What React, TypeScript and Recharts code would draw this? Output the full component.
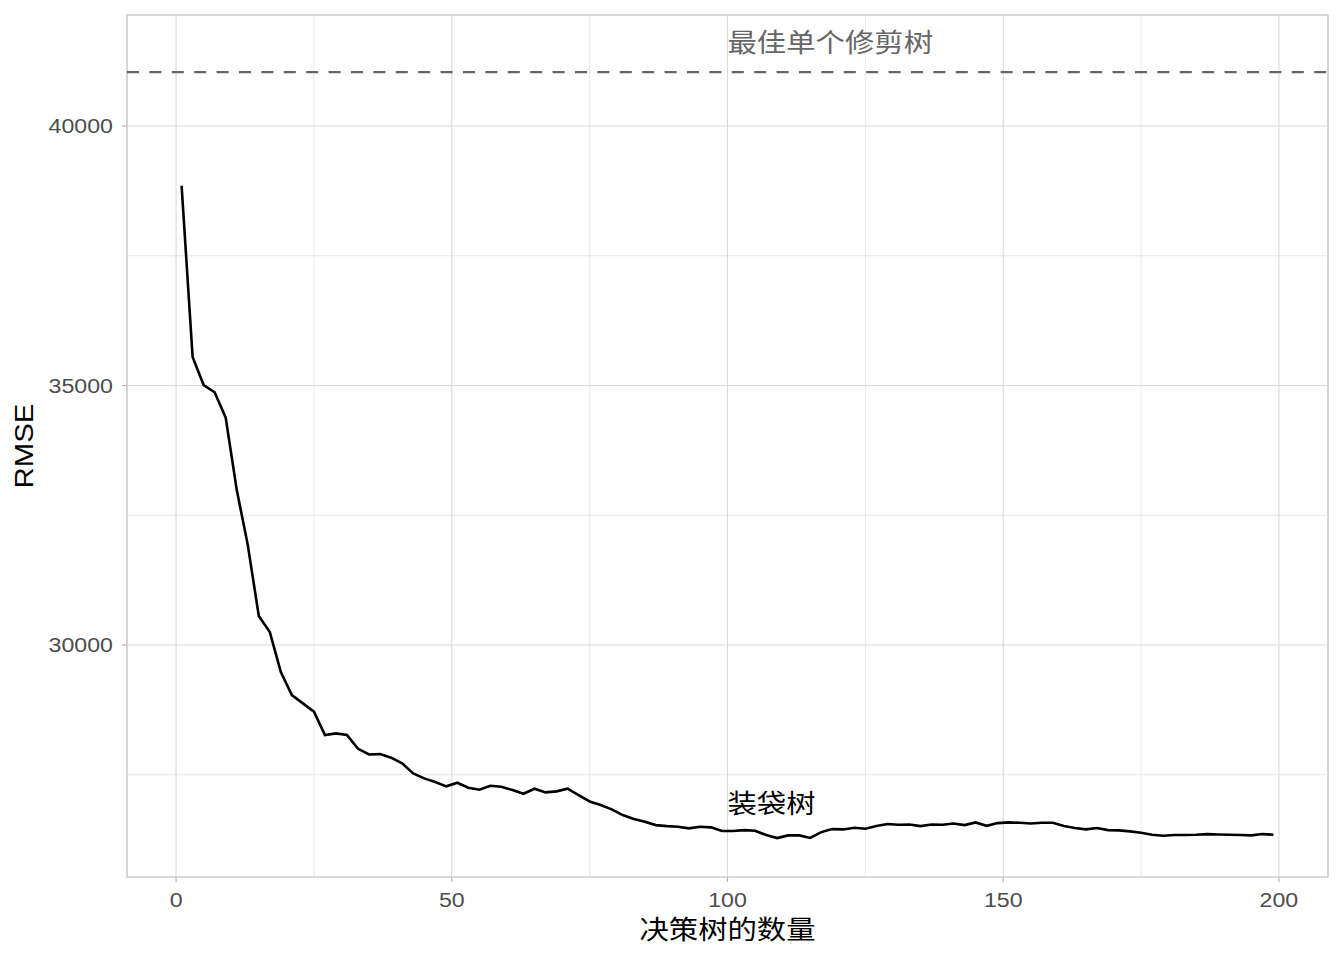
import { LineChart, Line, XAxis, YAxis, ReferenceLine, ReferenceArea, ReferenceDot } from 'recharts';

// number of bagged trees
const trees = [
  1, 3, 5, 7, 9, 11, 13, 15, 17, 19,
  21, 23, 25, 27, 29, 31, 33, 35, 37, 39,
  41, 43, 45, 47, 49, 51, 53, 55, 57, 59,
  61, 63, 65, 67, 69, 71, 73, 75, 77, 79,
  81, 83, 85, 87, 89, 91, 93, 95, 97, 99,
  101, 103, 105, 107, 109, 111, 113, 115, 117, 119,
  121, 123, 125, 127, 129, 131, 133, 135, 137, 139,
  141, 143, 145, 147, 149, 151, 153, 155, 157, 159,
  161, 163, 165, 167, 169, 171, 173, 175, 177, 179,
  181, 183, 185, 187, 189, 191, 193, 195, 197, 199,
];

const rmse = [
  38850, 35550, 35010, 34870, 34380, 32990, 31930, 30560, 30250, 29480,
  29035, 28875, 28715, 28265, 28297, 28265, 28000, 27890, 27898, 27830,
  27720, 27526, 27430, 27360, 27277, 27346, 27250, 27211, 27288, 27269,
  27205, 27134, 27231, 27160, 27180, 27231, 27109, 26985, 26916, 26833,
  26723, 26646, 26594, 26530, 26511, 26498, 26467, 26498, 26486, 26415,
  26415, 26434, 26421, 26338, 26280, 26332, 26332, 26283, 26395, 26453,
  26447, 26479, 26460, 26511, 26550, 26537, 26543, 26511, 26543, 26537,
  26562, 26530, 26582, 26517, 26569, 26582, 26575, 26562, 26575, 26575,
  26511, 26473, 26447, 26473, 26434, 26428, 26409, 26383, 26344, 26325,
  26338, 26338, 26344, 26357, 26350, 26344, 26338, 26332, 26357, 26344,
];

const bestPrunedTree = 41040;

const xTicks = [0, 50, 100, 150, 200];
const xMinor = [25, 75, 125, 175];
const yTicks = [30000, 35000, 40000];
const yMinor = [27500, 32500, 37500];

const xDomain = [-8.9, 208.9];
const yDomain = [25530, 42140];

const data = trees.map((t, i) => ({ trees: t, rmse: rmse[i] }));

const FONT = "'Liberation Sans', 'Noto Sans CJK SC', sans-serif";
const STRETCH = 'scale(1.13,1)';

const XTick = ({ x, y, payload }: any) => (
  <text
    transform={`translate(${x},${y + 16}) ${STRETCH}`}
    textAnchor="middle"
    dominantBaseline="central"
    fill="#4d4d4d"
    fontSize={20.5}
    fontFamily={FONT}
  >
    {payload.value}
  </text>
);

const YTick = ({ x, y, payload }: any) => (
  <text
    transform={`translate(${x - 7},${y}) ${STRETCH}`}
    textAnchor="end"
    dominantBaseline="central"
    fill="#4d4d4d"
    fontSize={20.5}
    fontFamily={FONT}
  >
    {payload.value}
  </text>
);

const annotation = (text: string, color: string) => (props: any) => {
  const { x, y } = props.viewBox;
  return (
    <text
      transform={`translate(${x},${y}) ${STRETCH}`}
      textAnchor="start"
      dominantBaseline="central"
      fill={color}
      fontSize={26}
      fontFamily={FONT}
    >
      {text}
    </text>
  );
};

export default function App() {
  return (
    <LineChart
      width={1328}
      height={944}
      data={data}
      margin={{ top: 7, right: 8, left: 0, bottom: 0 }}
      style={{ fontFamily: FONT, background: '#fff' }}
    >
      {xMinor.map((v) => (
        <ReferenceLine key={`xm${v}`} x={v} stroke="#e6e6e6" strokeWidth={0.9} />
      ))}
      {yMinor.map((v) => (
        <ReferenceLine key={`ym${v}`} y={v} stroke="#e6e6e6" strokeWidth={0.9} />
      ))}
      {xTicks.map((v) => (
        <ReferenceLine key={`xM${v}`} x={v} stroke="#d9d9d9" strokeWidth={1.1} />
      ))}
      {yTicks.map((v) => (
        <ReferenceLine key={`yM${v}`} y={v} stroke="#d9d9d9" strokeWidth={1.1} />
      ))}
      <XAxis
        dataKey="trees"
        type="number"
        domain={xDomain}
        allowDataOverflow
        ticks={xTicks}
        interval={0}
        height={75}
        axisLine={false}
        tickSize={5}
        tickMargin={2}
        tickLine={{ stroke: '#b3b3b3', strokeWidth: 1.1 }}
        tick={<XTick />}
        label={{
          content: (p: any) => {
            const vb = p.viewBox;
            return (
              <text
                transform={`translate(${vb.x + vb.width / 2},${vb.y + 53.5}) ${STRETCH}`}
                textAnchor="middle"
                dominantBaseline="central"
                fill="#000"
                fontSize={26}
                fontFamily={FONT}
              >
                决策树的数量
              </text>
            );
          },
        }}
      />
      <YAxis
        type="number"
        domain={yDomain}
        allowDataOverflow
        ticks={yTicks}
        interval={0}
        width={119}
        axisLine={false}
        tickSize={5}
        tickMargin={2}
        tickLine={{ stroke: '#b3b3b3', strokeWidth: 1.1 }}
        tick={<YTick />}
        label={{
          content: (p: any) => {
            const vb = p.viewBox;
            return (
              <text
                transform={`translate(16.5,${vb.y + vb.height / 2}) rotate(-90) ${STRETCH}`}
                textAnchor="middle"
                dominantBaseline="central"
                fill="#000"
                fontSize={26}
                fontFamily={FONT}
              >
                RMSE
              </text>
            );
          },
        }}
      />
      <ReferenceLine
        y={bestPrunedTree}
        stroke="#666666"
        strokeWidth={2.4}
        strokeDasharray="12 10.4"
      />
      <Line
        dataKey="rmse"
        type="linear"
        stroke="#000"
        strokeWidth={2.6}
        dot={false}
        activeDot={false}
        isAnimationActive={false}
      />
      <ReferenceArea
        x1={xDomain[0]}
        x2={xDomain[1]}
        y1={yDomain[0]}
        y2={yDomain[1]}
        fill="none"
        fillOpacity={0}
        stroke="#b3b3b3"
        strokeWidth={1.1}
        ifOverflow="visible"
      />
      <ReferenceDot x={100} y={41600} r={0} fill="none" stroke="none" label={annotation('最佳单个修剪树', '#666666')} />
      <ReferenceDot x={100} y={26936} r={0} fill="none" stroke="none" label={annotation('装袋树', '#000')} />
    </LineChart>
  );
}
